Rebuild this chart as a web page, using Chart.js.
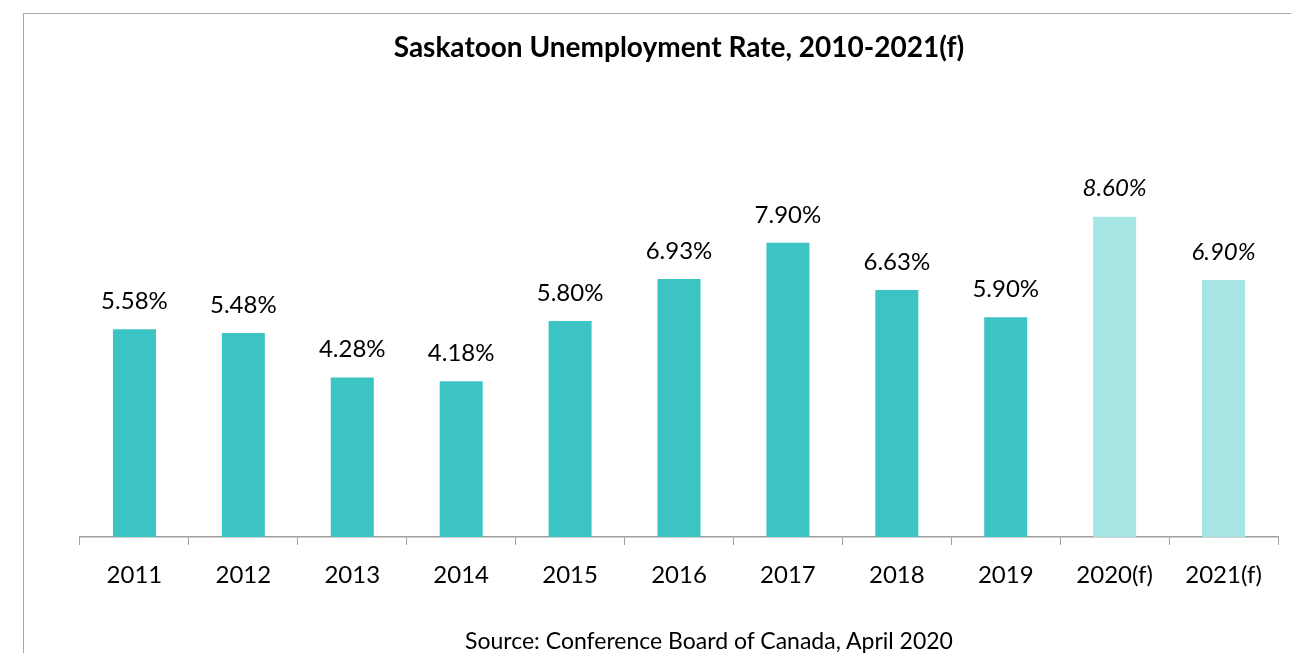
<!DOCTYPE html>
<html>
<head>
<meta charset="utf-8">
<script src="https://cdn.jsdelivr.net/npm/chart.js@4"></script>
<style>
  html, body { margin: 0; padding: 0; overflow: hidden; background: #fff; }
  #frame { position: absolute; left: 23px; top: 13px; width: 1400px; height: 800px; border: 1px solid #a6a6a6; }
  #wrap { position: absolute; left: 0; top: 0; width: 1291px; height: 653px; }
  #source { position: absolute; left: 409px; width: 600px; top: 626px; text-align: center;
            font: 23px Lato; line-height: 28px; color: #000; }
</style>
</head>
<body>
<div id="frame"></div>
<div id="wrap"><canvas id="chart"></canvas></div>
<div id="source">Source: Conference Board of Canada, April 2020</div>
<script>
// values
const years = ["2011", "2012", "2013", "2014", "2015", "2016", "2017", "2018", "2019", "2020(f)", "2021(f)"];
const rates = [5.58, 5.48, 4.28, 4.18, 5.80, 6.93, 7.90, 6.63, 5.90, 8.60, 6.90];
const forecast = [false, false, false, false, false, false, false, false, false, true, true];

const solidColor = "#3cc4c4";
const lightColor = "#a5e6e4";

// draws the % value over each bar
const valueLabels = {
    id: "valueLabels",
    afterDatasetsDraw(chart) {
        const ctx = chart.ctx;
        const meta = chart.getDatasetMeta(0);
        ctx.save();
        ctx.fillStyle = "#000";
        ctx.textAlign = "center";
        ctx.textBaseline = "middle";
        meta.data.forEach((bar, i) => {
            ctx.font = (forecast[i] ? "italic " : "") + "24px Lato";
            ctx.fillText(rates[i].toFixed(2) + "%", bar.x, bar.y - 28);
        });
        ctx.restore();
    }
};

new Chart(document.getElementById("chart"), {
    type: "bar",
    data: {
        labels: years,
        datasets: [{
            data: rates,
            backgroundColor: forecast.map(f => f ? lightColor : solidColor),
            categoryPercentage: 1,
            barPercentage: 0.395
        }]
    },
    options: {
        responsive: true,
        maintainAspectRatio: false,
        animation: false,
        layout: { padding: { left: 80, right: 13, top: 0, bottom: 48 } },
        plugins: {
            legend: { display: false },
            tooltip: { enabled: false },
            title: {
                display: true,
                text: "Saskatoon Unemployment Rate, 2010-2021(f)",
                color: "#000",
                font: { family: "Lato", size: 28, weight: "bold" },
                padding: { top: 31, bottom: 100 }
            }
        },
        scales: {
            x: {
                grid: { drawOnChartArea: false, tickLength: 8, color: "#a0a0a0" },
                border: { color: "#a0a0a0", width: 1.5 },
                ticks: { color: "#000", font: { family: "Lato", size: 24 }, padding: 15.6, maxRotation: 0 }
            },
            y: {
                display: false,
                min: 0,
                max: 10
            }
        }
    },
    plugins: [valueLabels]
});
</script>
</body>
</html>
